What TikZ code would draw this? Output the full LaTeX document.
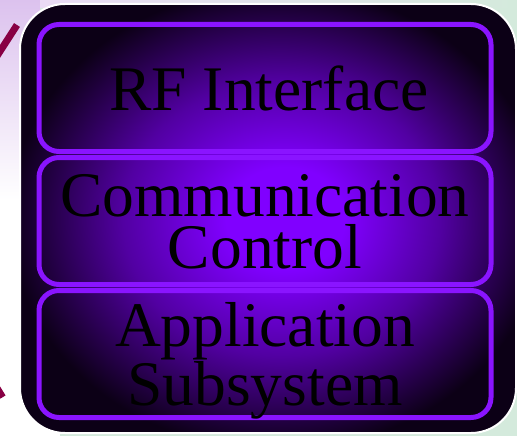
\documentclass[tikz,border=0pt]{standalone}
\usepackage{fontspec}
\setmainfont{Liberation Serif}

\definecolor{violetglow}{HTML}{8000FF}
\definecolor{violetdark}{HTML}{0C0016}
\definecolor{violetline}{HTML}{8A14FF}
\definecolor{maroonbar}{HTML}{880044}
\definecolor{lavender}{HTML}{DCC2EE}
\definecolor{palegreen}{HTML}{D4EADC}

\pgfdeclareradialshading{glow}{\pgfpoint{2bp}{0bp}}{color(0bp)=(violetglow); color(6bp)=(violetglow); color(16bp)=(violetglow!60!violetdark); color(27bp)=(violetdark); color(50bp)=(violetdark)}

\tikzset{
  layerbox/.style={draw=violetline, line width=5pt, rounded corners=20pt,
    minimum width=452pt, minimum height=127pt, inner sep=0pt, align=center,
    text depth=0pt, font=\fontsize{63.5}{52}\selectfont}
}

\begin{document}
\begin{tikzpicture}[x=1pt,y=-1pt]
	\useasboundingbox (0,0) rectangle (517,436);
	
	% backdrop
	\fill[palegreen] (0,0) rectangle (517,436);
	\fill[white] (0,200) rectangle (60,436);
	\shade[top color=lavender, bottom color=white] (0,0) rectangle (40,200);
	\shade[left color=lavender!60!white, right color=palegreen] (40,0) rectangle (517,8);
	\draw[maroonbar, line width=7pt] (-3,56) -- (17,25);
	\draw[maroonbar, line width=6pt] (-5,384) -- (3,397);
	
	% panel
	\shadedraw[shading=glow, draw=white, line width=2pt, rounded corners=45pt] (20,4) rectangle (516,433);
	
	% layers
	\node[layerbox] (rf) at (265,88) {\hspace*{8pt}RF Interface};
	\node[layerbox] (comm) at (265,221) {Communication\\Control};
	\node[layerbox] (app) at (265,354) {Application\\Subsystem};
\end{tikzpicture}
\end{document}
